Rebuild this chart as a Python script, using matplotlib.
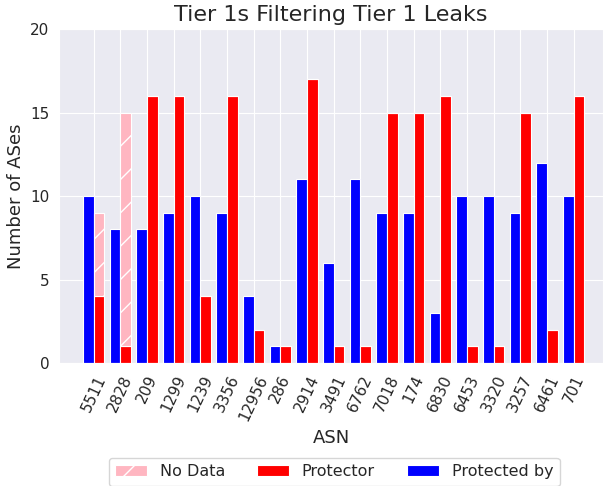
import numpy as np
import matplotlib
matplotlib.use("Agg")
import matplotlib.pyplot as plt
import seaborn as sns

sns.set_style("darkgrid")
plt.rcParams['font.family'] = ['DejaVu Sans']
plt.rcParams['hatch.color'] = 'white'

# datos
asns = ['5511', '2828', '209', '1299', '1239', '3356', '12956', '286', '2914', '3491',
        '6762', '7018', '174', '6830', '6453', '3320', '3257', '6461', '701']
protected_by = [10, 8, 8, 9, 10, 9, 4, 1, 11, 6, 11, 9, 9, 3, 10, 10, 9, 12, 10]
protector = [4, 1, 16, 16, 4, 16, 2, 1, 17, 1, 1, 15, 15, 16, 1, 1, 15, 2, 16]
no_data = [5, 14, 0, 0, 0, 0, 0, 0, 0, 0, 0, 0, 0, 0, 0, 0, 0, 0, 0]

x = np.arange(len(asns))
w = 0.4

fig = plt.figure(figsize=(6.03, 4.86), dpi=100)
ax = fig.add_axes([0.098, 0.253, 0.902, 0.687])

ax.bar(x - w/2, protected_by, w, color='blue', edgecolor='white', linewidth=0.8, label='Protected by')
ax.bar(x + w/2, protector, w, color='red', edgecolor='white', linewidth=0.8, label='Protector')
ax.bar(x + w/2, no_data, w, bottom=protector, color='lightpink', edgecolor='white',
       linewidth=0.8, hatch='/', label='No Data')

ax.set_xticks(x)
ax.set_xticklabels(asns, rotation=65, fontsize=11)
ax.set_yticks([0, 5, 10, 15, 20])
ax.tick_params(axis='y', labelsize=11)
ax.set_xlim(-1.3, 19.1)
ax.set_ylim(0, 20)
ax.set_title("Tier 1s Filtering Tier 1 Leaks", fontsize=16)
ax.set_xlabel("ASN", fontsize=13)
ax.set_ylabel("Number of ASes", fontsize=13)

h, l = ax.get_legend_handles_labels()
fig.legend([h[2], h[1], h[0]], [l[2], l[1], l[0]], loc='upper center', ncol=3,
           bbox_to_anchor=(0.554, 0.074), fontsize=11.5, frameon=True,
           facecolor='white', edgecolor='#cccccc')

fig.savefig("out.png", dpi=100)
